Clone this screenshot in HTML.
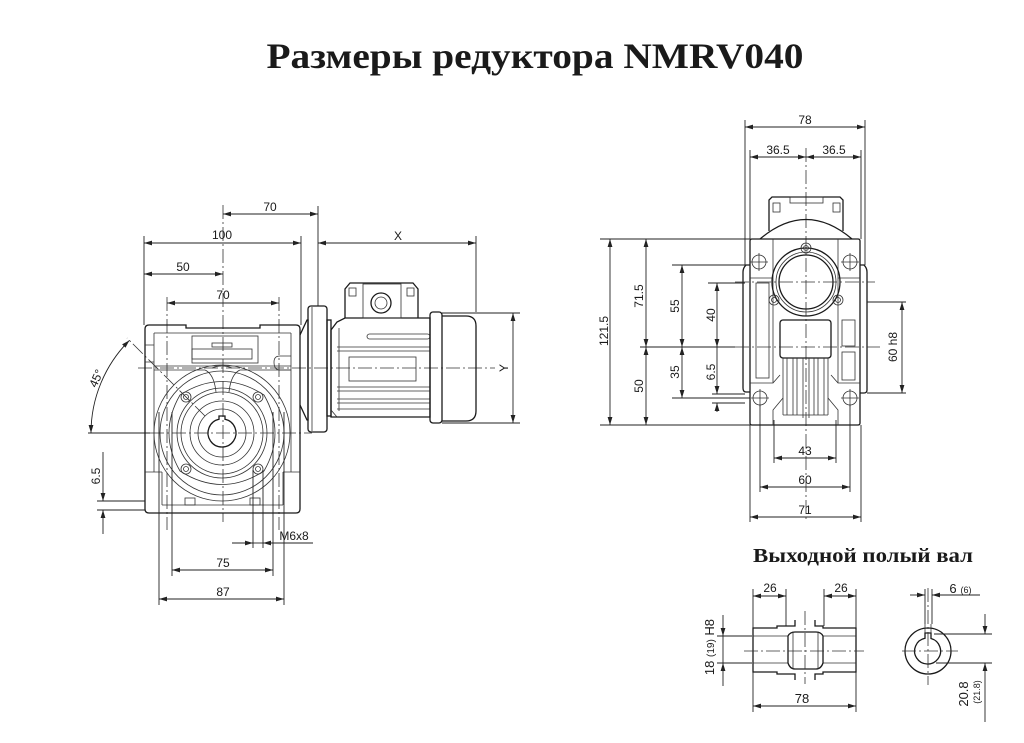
<!DOCTYPE html>
<html><head><meta charset="utf-8"><style>
html,body{margin:0;padding:0;background:#fff;}
svg{display:block;}
.o{stroke:#1a1a1a;stroke-width:1.3;fill:none;}
.t{stroke:#333;stroke-width:0.8;fill:none;}
.d{stroke:#222;stroke-width:0.9;fill:none;}
.c{stroke:#333;stroke-width:0.8;fill:none;stroke-dasharray:14 3 2 3;}
text{font-family:"Liberation Sans",sans-serif;fill:#1a1a1a;}
.n{font-size:12px;}
</style></head><body>
<svg width="1024" height="743" viewBox="0 0 1024 743" xmlns="http://www.w3.org/2000/svg">
<defs>
<marker id="a" viewBox="0 0 8 6" refX="8" refY="3" markerWidth="8" markerHeight="6" markerUnits="userSpaceOnUse" orient="auto-start-reverse"><path d="M0,0.6 L8,3 L0,5.4z" fill="#222"/></marker>
</defs>
<rect width="1024" height="743" fill="#fff"/>

<!-- Titles -->
<text x="535" y="68" text-anchor="middle" textLength="537" lengthAdjust="spacingAndGlyphs" style="font-family:'Liberation Serif',serif;font-weight:bold;font-size:36px;">Размеры редуктора NMRV040</text>
<text x="863" y="562" text-anchor="middle" textLength="220" lengthAdjust="spacingAndGlyphs" style="font-family:'Liberation Serif',serif;font-weight:bold;font-size:20px;">Выходной полый вал</text>

<!-- ============ LEFT VIEW ============ -->
<line class="d" x1="223" y1="214" x2="318" y2="214" marker-start="url(#a)" marker-end="url(#a)"/>
<text class="n" x="270" y="211" text-anchor="middle">70</text>
<line class="d" x1="318" y1="206" x2="318" y2="306"/>
<line class="d" x1="144" y1="243" x2="301" y2="243" marker-start="url(#a)" marker-end="url(#a)"/>
<text class="n" x="222" y="239" text-anchor="middle">100</text>
<line class="d" x1="144" y1="236" x2="144" y2="325"/>
<line class="d" x1="301" y1="236" x2="301" y2="325"/>
<line class="d" x1="144" y1="274" x2="223" y2="274" marker-start="url(#a)" marker-end="url(#a)"/>
<text class="n" x="183" y="271" text-anchor="middle">50</text>
<line class="d" x1="167" y1="303" x2="279" y2="303" marker-start="url(#a)" marker-end="url(#a)"/>
<text class="n" x="223" y="299" text-anchor="middle">70</text>
<line class="d" x1="318" y1="243" x2="476" y2="243" marker-start="url(#a)" marker-end="url(#a)"/>
<text class="n" x="398" y="240" text-anchor="middle">X</text>
<line class="d" x1="476" y1="236" x2="476" y2="312"/>
<!-- Y -->
<line class="d" x1="442" y1="313" x2="520" y2="313"/>
<line class="d" x1="442" y1="423" x2="520" y2="423"/>
<line class="d" x1="513" y1="313" x2="513" y2="423" marker-start="url(#a)" marker-end="url(#a)"/>
<text class="n" x="508" y="368" text-anchor="middle" transform="rotate(-90 508 368)">Y</text>

<!-- centerlines -->
<line class="c" x1="223" y1="205" x2="223" y2="522"/>
<line class="c" x1="167" y1="297" x2="167" y2="530"/>
<line class="c" x1="279" y1="297" x2="279" y2="530"/>
<line class="c" x1="138" y1="368" x2="495" y2="368"/>
<line class="d" x1="88" y1="433" x2="150" y2="433"/>
<line class="c" x1="150" y1="433" x2="312" y2="433"/>
<line class="c" x1="205" y1="416" x2="127" y2="338"/>

<!-- 45 deg -->
<path class="d" d="M91,433 A131,131 0 0 1 129.4,340.4" marker-start="url(#a)" marker-end="url(#a)"/>
<text class="n" x="100" y="380" text-anchor="middle" transform="rotate(-66 100 380)">45°</text>

<!-- gearbox body -->
<path class="o" d="M149,325 L186,325 L186,328 L260,328 L260,325 L296,325 Q300,325 300,329 L300,509 Q300,513 296,513 L149,513 Q145,513 145,509 L145,329 Q145,325 149,325 Z"/>
<line class="t" x1="154" y1="333" x2="291" y2="333"/>
<line class="t" x1="154" y1="333" x2="154" y2="472"/>
<line class="t" x1="291" y1="333" x2="291" y2="472"/>
<line class="t" x1="145" y1="472" x2="162" y2="472"/>
<line class="t" x1="162" y1="472" x2="162" y2="505"/>
<line class="t" x1="283" y1="472" x2="300" y2="472"/>
<line class="t" x1="283" y1="472" x2="283" y2="505"/>
<line class="t" x1="162" y1="505" x2="283" y2="505"/>
<rect class="t" x="185" y="498" width="10" height="7"/>
<rect class="t" x="250" y="498" width="10" height="7"/>
<line class="t" x1="154" y1="366" x2="291" y2="366"/>
<line class="t" x1="154" y1="370" x2="205" y2="370"/>
<line class="t" x1="240" y1="370" x2="291" y2="370"/>
<rect class="t" x="192" y="336" width="66" height="27"/>
<rect class="t" x="192" y="349" width="60" height="10"/>
<rect class="t" x="212" y="343" width="20" height="4"/>
<path class="t" d="M291,356 L280,356 Q274,356 274,362 Q274,370 280,370 L291,370"/>
<path class="t" d="M145,345 L154,345 M145,362 L154,362"/>
<path class="t" d="M205,370 Q214,374 216,392 M240,370 Q231,374 229,392"/>
<path class="t" d="M212,368 Q222,364 232,368"/>
<!-- output flange circles -->
<circle class="t" cx="222" cy="433" r="68"/>
<circle class="t" cx="222" cy="433" r="62"/>
<path class="t" d="M180,395 Q222,368 264,395 Q286,433 264,471 Q222,498 180,471 Q158,433 180,395 Z"/>
<circle class="t" cx="222" cy="433" r="45"/>
<circle class="t" cx="222" cy="433" r="41"/>
<circle class="t" cx="222" cy="433" r="32"/>
<circle class="t" cx="222" cy="433" r="24"/>
<path class="o" d="M219,419.3 A14,14 0 1 0 225,419.3 L225,416 L219,416 Z"/>
<g class="t">
<circle cx="186" cy="397" r="5"/><circle cx="186" cy="397" r="2.5"/>
<circle cx="258" cy="397" r="5"/><circle cx="258" cy="397" r="2.5"/>
<circle cx="186" cy="469" r="5"/><circle cx="186" cy="469" r="2.5"/>
<circle cx="258" cy="469" r="5"/><circle cx="258" cy="469" r="2.5"/>
</g>

<!-- bottom dims left -->
<line class="d" x1="159" y1="412" x2="159" y2="605"/>
<line class="d" x1="172" y1="412" x2="172" y2="576"/>
<line class="d" x1="273" y1="412" x2="273" y2="576"/>
<line class="d" x1="284" y1="412" x2="284" y2="605"/>
<line class="d" x1="172" y1="570" x2="273" y2="570" marker-start="url(#a)" marker-end="url(#a)"/>
<text class="n" x="223" y="567" text-anchor="middle">75</text>
<line class="d" x1="159" y1="599" x2="284" y2="599" marker-start="url(#a)" marker-end="url(#a)"/>
<text class="n" x="223" y="596" text-anchor="middle">87</text>
<line class="d" x1="253" y1="470" x2="253" y2="548"/>
<line class="d" x1="263" y1="470" x2="263" y2="548"/>
<line class="d" x1="232" y1="543" x2="253" y2="543" marker-end="url(#a)"/>
<line class="d" x1="263" y1="543" x2="313" y2="543" marker-start="url(#a)"/>
<line class="d" x1="253" y1="543" x2="263" y2="543"/>
<text class="n" x="294" y="540" text-anchor="middle">M6x8</text>
<!-- 6.5 left -->
<line class="d" x1="97" y1="501" x2="145" y2="501"/>
<line class="d" x1="97" y1="510" x2="145" y2="510"/>
<line class="d" x1="103" y1="452" x2="103" y2="501" marker-end="url(#a)"/>
<line class="d" x1="103" y1="534" x2="103" y2="510" marker-end="url(#a)"/>
<text class="n" x="100" y="476" text-anchor="middle" transform="rotate(-90 100 476)">6.5</text>

<!-- motor -->
<path class="o" d="M300,335 L307,320 L308,320 L308,420 L307,420 L300,405"/>
<rect class="o" x="308" y="306" width="19" height="126" rx="3"/>
<line class="t" x1="312" y1="307" x2="312" y2="431"/>
<rect class="o" x="327" y="320" width="4" height="96"/>
<path class="o" d="M331,330 L337,322 L345,318 L430,318 L430,417 L331,417 Z"/>
<line class="t" x1="339" y1="328" x2="339" y2="411"/>
<path class="t" d="M331,410 L337,417"/>
<rect class="t" x="367" y="334" width="63" height="5" rx="2.5"/>
<g class="t">
<line x1="337" y1="347" x2="430" y2="347"/><line x1="337" y1="351" x2="430" y2="351"/>
<line x1="337" y1="387" x2="430" y2="387"/><line x1="337" y1="391" x2="430" y2="391"/>
<line x1="337" y1="399" x2="430" y2="399"/><line x1="337" y1="403" x2="430" y2="403"/>
<line x1="337" y1="409" x2="430" y2="409"/>
</g>
<rect class="t" x="349" y="357" width="67" height="24"/>
<!-- terminal box -->
<path class="o" d="M345,318 L345,289 L350,283 L413,283 L418,289 L418,318"/>
<rect class="t" x="363" y="284" width="38" height="34"/>
<circle class="o" cx="381" cy="303" r="10"/>
<circle class="t" cx="381" cy="303" r="6"/>
<rect class="t" x="349" y="288" width="7" height="8"/>
<rect class="t" x="407" y="288" width="7" height="8"/>
<!-- fan cover -->
<rect class="o" x="430" y="312" width="12" height="111" rx="3"/>
<path class="o" d="M442,316 L466,316 Q476,316 476,326 L476,411 Q476,421 466,421 L442,421"/>

<!-- ============ RIGHT VIEW ============ -->
<line class="d" x1="745" y1="120" x2="745" y2="265"/>
<line class="d" x1="865" y1="120" x2="865" y2="265"/>
<line class="d" x1="745" y1="127" x2="865" y2="127" marker-start="url(#a)" marker-end="url(#a)"/>
<text class="n" x="805" y="124" text-anchor="middle">78</text>
<line class="d" x1="750" y1="150" x2="750" y2="239"/>
<line class="d" x1="861" y1="150" x2="861" y2="239"/>
<line class="d" x1="750" y1="157" x2="806" y2="157" marker-start="url(#a)" marker-end="url(#a)"/>
<line class="d" x1="806" y1="157" x2="861" y2="157" marker-start="url(#a)" marker-end="url(#a)"/>
<text class="n" x="778" y="154" text-anchor="middle">36.5</text>
<text class="n" x="834" y="154" text-anchor="middle">36.5</text>
<line class="c" x1="806" y1="148" x2="806" y2="520"/>

<!-- body -->
<path class="o" d="M769,231 L769,200 L772,197 L840,197 L843,200 L843,231"/>
<rect class="t" x="790" y="197" width="33" height="6"/>
<rect class="t" x="773" y="203" width="7" height="9"/>
<rect class="t" x="833" y="203" width="7" height="9"/>
<path class="o" d="M760,239 Q806,200 852,239"/>
<path class="o" d="M752,239 L858,239 Q860,239 860,241 L860,423 Q860,425 858,425 L752,425 Q750,425 750,423 L750,241 Q750,239 752,239 Z"/>
<path class="o" d="M750,265 L746,265 Q743,268 743,272 L743,388 Q743,392 746,392 L750,392"/>
<path class="o" d="M860,265 L864,265 Q867,268 867,272 L867,390 Q867,393 864,393 L860,393"/>
<line class="t" x1="773" y1="239" x2="773" y2="383"/>
<line class="t" x1="838" y1="239" x2="838" y2="383"/>
<line class="t" x1="750" y1="278" x2="773" y2="278"/>
<line class="t" x1="838" y1="278" x2="860" y2="278"/>
<rect class="t" x="756" y="283" width="13" height="95"/>
<rect class="t" x="842" y="320" width="13" height="26"/>
<rect class="t" x="842" y="352" width="13" height="28"/>
<path class="t" d="M750,383 L773,383 L780,375 M860,383 L838,383 L831,375"/>
<path class="t" d="M773,425 L773,410 L783,398 M838,425 L838,410 L828,398"/>
<line class="t" x1="783" y1="415" x2="828" y2="415"/>
<rect class="o" x="780" y="320" width="51" height="38" rx="3"/>
<g class="t">
<line x1="783" y1="358" x2="783" y2="415"/><line x1="787" y1="358" x2="787" y2="415"/>
<line x1="793" y1="358" x2="793" y2="415"/><line x1="797" y1="358" x2="797" y2="415"/>
<line x1="803" y1="358" x2="803" y2="418"/><line x1="809" y1="358" x2="809" y2="418"/>
<line x1="814" y1="358" x2="814" y2="415"/><line x1="818" y1="358" x2="818" y2="415"/>
<line x1="824" y1="358" x2="824" y2="415"/><line x1="828" y1="358" x2="828" y2="415"/>
</g>
<!-- bore -->
<circle class="o" cx="806" cy="282" r="34"/>
<circle class="t" cx="806" cy="282" r="30"/>
<circle class="o" cx="806" cy="282" r="27"/>
<g class="t">
<circle cx="806" cy="248" r="5"/><circle cx="806" cy="248" r="2.5"/>
<circle cx="774" cy="300" r="5"/><circle cx="774" cy="300" r="2.5"/>
<circle cx="838" cy="300" r="5"/><circle cx="838" cy="300" r="2.5"/>
</g>
<!-- mounting holes -->
<g class="t">
<circle cx="759" cy="262" r="7"/><line x1="750" y1="262" x2="768" y2="262"/><line x1="759" y1="253" x2="759" y2="271"/>
<circle cx="850" cy="262" r="7"/><line x1="841" y1="262" x2="859" y2="262"/><line x1="850" y1="253" x2="850" y2="271"/>
<circle cx="760" cy="398" r="7"/><line x1="751" y1="398" x2="769" y2="398"/><line x1="760" y1="389" x2="760" y2="407"/>
<circle cx="850" cy="398" r="7"/><line x1="841" y1="398" x2="859" y2="398"/><line x1="850" y1="389" x2="850" y2="407"/>
</g>
<line class="c" x1="735" y1="282" x2="875" y2="282"/>
<line class="c" x1="735" y1="347" x2="880" y2="347"/>

<!-- vertical dims right view -->
<line class="d" x1="600" y1="239" x2="750" y2="239"/>
<line class="d" x1="600" y1="425" x2="750" y2="425"/>
<line class="d" x1="672" y1="265" x2="745" y2="265"/>
<line class="d" x1="708" y1="283" x2="745" y2="283"/>
<line class="d" x1="640" y1="347" x2="735" y2="347"/>
<line class="d" x1="672" y1="398" x2="750" y2="398"/>
<line class="d" x1="712" y1="394" x2="745" y2="394"/>
<line class="d" x1="712" y1="403" x2="745" y2="403"/>
<line class="d" x1="610" y1="239" x2="610" y2="425" marker-start="url(#a)" marker-end="url(#a)"/>
<text class="n" x="608" y="331" text-anchor="middle" transform="rotate(-90 608 331)">121.5</text>
<line class="d" x1="646" y1="239" x2="646" y2="347" marker-start="url(#a)" marker-end="url(#a)"/>
<text class="n" x="643" y="296" text-anchor="middle" transform="rotate(-90 643 296)">71.5</text>
<line class="d" x1="646" y1="347" x2="646" y2="425" marker-start="url(#a)" marker-end="url(#a)"/>
<text class="n" x="643" y="386" text-anchor="middle" transform="rotate(-90 643 386)">50</text>
<line class="d" x1="682" y1="265" x2="682" y2="347" marker-start="url(#a)" marker-end="url(#a)"/>
<text class="n" x="679" y="306" text-anchor="middle" transform="rotate(-90 679 306)">55</text>
<line class="d" x1="682" y1="347" x2="682" y2="398" marker-start="url(#a)" marker-end="url(#a)"/>
<text class="n" x="679" y="372" text-anchor="middle" transform="rotate(-90 679 372)">35</text>
<line class="d" x1="717" y1="283" x2="717" y2="347" marker-start="url(#a)" marker-end="url(#a)"/>
<text class="n" x="715" y="315" text-anchor="middle" transform="rotate(-90 715 315)">40</text>
<line class="d" x1="717" y1="347" x2="717" y2="394" marker-end="url(#a)"/>
<line class="d" x1="717" y1="412" x2="717" y2="403" marker-end="url(#a)"/>
<text class="n" x="715" y="372" text-anchor="middle" transform="rotate(-90 715 372)">6.5</text>
<!-- 60 h8 -->
<line class="d" x1="867" y1="302" x2="906" y2="302"/>
<line class="d" x1="867" y1="393" x2="906" y2="393"/>
<line class="d" x1="902" y1="302" x2="902" y2="393" marker-start="url(#a)" marker-end="url(#a)"/>
<text class="n" x="897" y="347" text-anchor="middle" transform="rotate(-90 897 347)">60 h8</text>

<!-- bottom dims right -->
<line class="d" x1="750" y1="425" x2="750" y2="522"/>
<line class="d" x1="861" y1="425" x2="861" y2="522"/>
<line class="d" x1="760" y1="405" x2="760" y2="492"/>
<line class="d" x1="850" y1="405" x2="850" y2="492"/>
<line class="d" x1="774" y1="420" x2="774" y2="463"/>
<line class="d" x1="836" y1="420" x2="836" y2="463"/>
<line class="d" x1="774" y1="458" x2="836" y2="458" marker-start="url(#a)" marker-end="url(#a)"/>
<text class="n" x="805" y="455" text-anchor="middle">43</text>
<line class="d" x1="760" y1="487" x2="850" y2="487" marker-start="url(#a)" marker-end="url(#a)"/>
<text class="n" x="805" y="484" text-anchor="middle">60</text>
<line class="d" x1="750" y1="517" x2="861" y2="517" marker-start="url(#a)" marker-end="url(#a)"/>
<text class="n" x="805" y="514" text-anchor="middle">71</text>

<!-- ============ HOLLOW SHAFT ============ -->
<path class="o" d="M795,620 L795,626 L777,626 L777,628 L753,628 L753,672 L777,672 L777,674 L795,674 L795,680"/>
<path class="o" d="M815,620 L815,626 L823,626 L823,628 L856,628 L856,672 L823,672 L823,674 L815,674 L815,680"/>
<line class="t" x1="753" y1="636" x2="788" y2="636"/>
<line class="t" x1="753" y1="663" x2="788" y2="663"/>
<line class="t" x1="823" y1="636" x2="856" y2="636"/>
<line class="t" x1="823" y1="663" x2="856" y2="663"/>
<path class="o" d="M788,636 Q790,632 795,632 L816,632 Q821,632 823,636 L823,663 Q821,669 816,669 L795,669 Q790,669 788,663 Z"/>
<line class="t" x1="793" y1="632" x2="793" y2="669"/>
<line class="t" x1="818" y1="632" x2="818" y2="669"/>
<line class="c" x1="744" y1="651" x2="864" y2="651"/>
<line class="c" x1="805" y1="611" x2="805" y2="684"/>
<!-- 26 dims -->
<line class="d" x1="753" y1="589" x2="753" y2="628"/>
<line class="d" x1="786" y1="589" x2="786" y2="626"/>
<line class="d" x1="824" y1="589" x2="824" y2="626"/>
<line class="d" x1="856" y1="589" x2="856" y2="628"/>
<line class="d" x1="753" y1="596" x2="786" y2="596" marker-start="url(#a)" marker-end="url(#a)"/>
<line class="d" x1="824" y1="596" x2="856" y2="596" marker-start="url(#a)" marker-end="url(#a)"/>
<text class="n" x="770" y="592" text-anchor="middle">26</text>
<text class="n" x="841" y="592" text-anchor="middle">26</text>
<!-- 78 -->
<line class="d" x1="753" y1="672" x2="753" y2="712"/>
<line class="d" x1="856" y1="672" x2="856" y2="712"/>
<line class="d" x1="753" y1="706" x2="856" y2="706" marker-start="url(#a)" marker-end="url(#a)"/>
<text x="802" y="703" text-anchor="middle" style="font-size:13px;">78</text>
<!-- 18 (19) H8 -->
<line class="d" x1="717" y1="636" x2="752" y2="636"/>
<line class="d" x1="717" y1="663" x2="752" y2="663"/>
<line class="d" x1="723" y1="615" x2="723" y2="636" marker-end="url(#a)"/>
<line class="d" x1="723" y1="686" x2="723" y2="663" marker-end="url(#a)"/>
<line class="d" x1="723" y1="636" x2="723" y2="663"/>
<text x="714" y="647" text-anchor="middle" transform="rotate(-90 714 647)" style="font-size:13px;">18 <tspan style="font-size:10px;">(19)</tspan> H8</text>
<!-- end view -->
<circle class="o" cx="928" cy="651" r="23"/>
<path class="o" d="M925,638.3 A13,13 0 1 0 931,638.5 L931,633 L925,633 Z"/>
<line class="t" x1="925" y1="624" x2="925" y2="633"/>
<line class="t" x1="931" y1="624" x2="931" y2="633"/>
<line class="c" x1="928" y1="588" x2="928" y2="685"/>
<line class="c" x1="902" y1="651" x2="958" y2="651"/>
<line class="d" x1="925" y1="589" x2="925" y2="624"/>
<line class="d" x1="932" y1="589" x2="932" y2="624"/>
<line class="d" x1="910" y1="595" x2="925" y2="595" marker-end="url(#a)"/>
<line class="d" x1="980" y1="595" x2="932" y2="595" marker-end="url(#a)"/>
<text x="953" y="593" text-anchor="middle" style="font-size:13px;">6</text>
<text x="966" y="593" text-anchor="middle" style="font-size:9px;">(6)</text>
<line class="d" x1="934" y1="634" x2="992" y2="634"/>
<line class="d" x1="936" y1="663" x2="992" y2="663"/>
<line class="d" x1="985" y1="614" x2="985" y2="634" marker-end="url(#a)"/>
<line class="d" x1="985" y1="722" x2="985" y2="663" marker-end="url(#a)"/>
<text x="968" y="694" text-anchor="middle" transform="rotate(-90 968 694)" style="font-size:13px;">20.8</text>
<text x="980" y="692" text-anchor="middle" transform="rotate(-90 980 692)" style="font-size:9px;">(21.8)</text>
</svg>
</body></html>
